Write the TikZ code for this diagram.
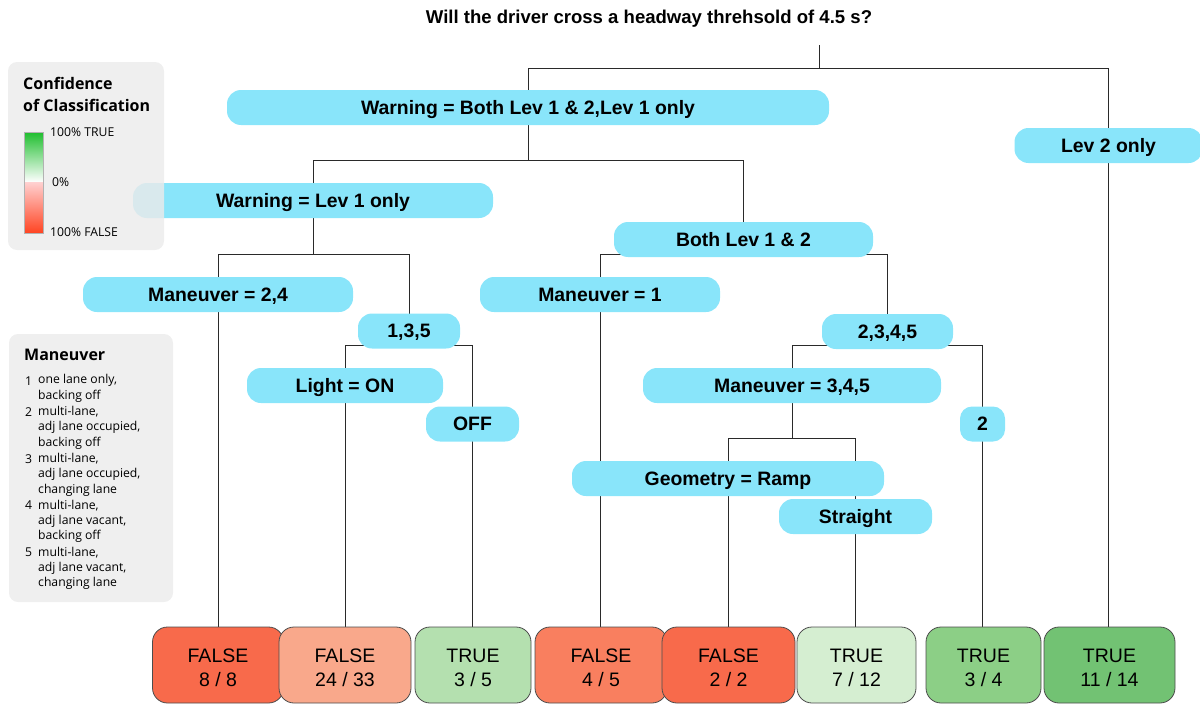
\documentclass[tikz,border=0pt]{standalone}
\usepackage{fontspec}
\setmainfont{Liberation Sans}
\newfontfamily\legfont{Open Sans}
\usetikzlibrary{backgrounds}
\definecolor{splitfill}{HTML}{89E5FA}
\definecolor{edgecol}{HTML}{2A2A2A}
\definecolor{legfill}{HTML}{EBEBEB}
\definecolor{fA}{HTML}{F86A4B}
\definecolor{fB}{HTML}{F9A88B}
\definecolor{fC}{HTML}{F97F5F}
\definecolor{tA}{HTML}{B4E0AF}
\definecolor{tB}{HTML}{D5EED1}
\definecolor{tC}{HTML}{8CCF86}
\definecolor{tD}{HTML}{72C273}
\definecolor{gtop}{HTML}{1EBE2E}
\definecolor{rbot}{HTML}{FF4422}
\begin{document}
\begin{tikzpicture}[x=1pt,y=-1pt,
  split/.style={fill=splitfill, draw=none, rounded corners=14pt, minimum height=35pt, inner sep=0pt,
    text height=13.9pt, text depth=0pt,
    font=\fontsize{19.4}{22}\selectfont\bfseries},
  leaf/.style={draw=black!70, line width=0.8pt, rounded corners=15pt, minimum height=76pt, inner sep=0pt,
    align=center, text height=46pt, text depth=4pt, font=\fontsize{19.5}{24}\selectfont},
  edge/.style={draw=edgecol, line width=0.9pt},
  legbox/.style={fill=legfill, fill opacity=0.82, draw=none, rounded corners=9pt},
  legtitle/.style={anchor=west, inner sep=0pt, font=\legfont\fontsize{16}{18}\selectfont\bfseries},
  legtext/.style={anchor=west, inner sep=0pt, font=\legfont\fontsize{12.2}{14}\selectfont}
]
\useasboundingbox (0,0) rectangle (1200,704);
\clip (0,0) rectangle (1200,704);

% title
\node[font=\fontsize{18.55}{22}\selectfont\bfseries, inner sep=0pt, text height=13.3pt, text depth=0pt] (title) at (649,17) {Will the driver cross a headway threhsold of 4.5 s?};
\coordinate (root) at (819,45);

% split nodes
\node[split, minimum width=602] (n1) at (528,107.5) {Warning = Both Lev 1 \& 2,Lev 1 only};
\node[split, minimum width=188] (n2) at (1108.5,145.5) {Lev 2 only};
\node[split, minimum width=360] (n3) at (313,200.5) {Warning = Lev 1 only};
\node[split, minimum width=259] (n4) at (743.5,239.5) {Both Lev 1 \& 2};
\node[split, minimum width=270] (n5) at (218,294.5) {Maneuver = 2,4};
\node[split, minimum width=102] (n6) at (409,331) {1,3,5};
\node[split, minimum width=240] (n7) at (600,294.5) {Maneuver = 1};
\node[split, minimum width=131] (n8) at (887.5,331.5) {2,3,4,5};
\node[split, minimum width=196] (n9) at (345,385.5) {Light = ON};
\node[split, minimum width=93] (n10) at (472.5,424) {OFF};
\node[split, minimum width=298] (n11) at (792,385.5) {Maneuver = 3,4,5};
\node[split, minimum width=45, rounded corners=12pt] (n12) at (982.5,424) {2};
\node[split, minimum width=312] (n13) at (728,478.5) {Geometry = Ramp};
\node[split, minimum width=153] (n14) at (855.5,516.5) {Straight};

% leaves
\node[leaf, fill=fA, minimum width=131] (L1) at (218,665) {FALSE\\8 / 8};
\node[leaf, fill=fB, minimum width=132] (L2) at (345,665) {FALSE\\24 / 33};
\node[leaf, fill=tA, minimum width=116] (L3) at (473,665) {TRUE\\3 / 5};
\node[leaf, fill=fC, minimum width=132] (L4) at (601,665) {FALSE\\4 / 5};
\node[leaf, fill=fA, minimum width=133] (L5) at (728.5,665) {FALSE\\2 / 2};
\node[leaf, fill=tB, minimum width=119] (L6) at (856.5,665) {TRUE\\7 / 12};
\node[leaf, fill=tC, minimum width=115] (L7) at (983.5,665) {TRUE\\3 / 4};
\node[leaf, fill=tD, minimum width=131] (L8) at (1109.5,665) {TRUE\\11 / 14};

% connectors
\begin{pgfonlayer}{background}
\draw[edge] (root) -- (root |- 0,68) -| (n1.center);
\draw[edge] (root |- 0,68) -| (n2.center);
\draw[edge] (n1.center) -- (n1.center |- 0,160) -| (n3.center);
\draw[edge] (n1.center |- 0,160) -| (n4.center);
\draw[edge] (n3.center) -- (n3.center |- 0,254) -| (n5.center);
\draw[edge] (n3.center |- 0,254) -| (n6.center);
\draw[edge] (n4.center) -- (n4.center |- 0,254) -| (n7.center);
\draw[edge] (n4.center |- 0,254) -| (n8.center);
\draw[edge] (n6.center) -- (n6.center |- 0,345) -| (n9.center);
\draw[edge] (n6.center |- 0,345) -| (n10.center);
\draw[edge] (n8.center) -- (n8.center |- 0,345) -| (n11.center);
\draw[edge] (n8.center |- 0,345) -| (n12.center);
\draw[edge] (n11.center) -- (n11.center |- 0,438) -| (n13.center);
\draw[edge] (n11.center |- 0,438) -| (n14.center);
\draw[edge] (n5.center) -- (n5.center |- L1.north);
\draw[edge] (n9.center) -- (n9.center |- L2.north);
\draw[edge] (n10.center) -- (n10.center |- L3.north);
\draw[edge] (n7.center) -- (n7.center |- L4.north);
\draw[edge] (n13.center) -- (n13.center |- L5.north);
\draw[edge] (n14.center) -- (n14.center |- L6.north);
\draw[edge] (n12.center) -- (n12.center |- L7.north);
\draw[edge] (n2.center) -- (n2.center |- L8.north);
\end{pgfonlayer}

% legend: confidence
\path[legbox] (8,62) rectangle (164,250);
\node[legtitle] (lt1) at (23,83) {Confidence};
\node[legtitle] (lt2) at (23,105) {of Classification};
\shade[top color=gtop, bottom color=white] (24,132) rectangle (43,182);
\shade[top color=red!18, bottom color=rbot] (24,182) rectangle (43,233);
\draw[black!30, line width=0.6pt] (24,132) rectangle (43,233);
\node[legtext] (lg1) at (50,132) {100\% TRUE};
\node[legtext] (lg2) at (52,182) {0\%};
\node[legtext] (lg3) at (50,232) {100\% FALSE};

% legend: maneuver
\path[legbox] (9,334) rectangle (173,602);
\node[legtitle] (mt) at (24,355) {Maneuver};
\foreach \yy/\nn/\txt in {
  380.7/1/{one lane only,}, 396.3//{backing off},
  411.9/2/{multi-lane,}, 427.5//{adj lane occupied,}, 443.1//{backing off},
  458.7/3/{multi-lane,}, 474.3//{adj lane occupied,}, 489.9//{changing lane},
  505.5/4/{multi-lane,}, 521.1//{adj lane vacant,}, 536.7//{backing off},
  552.3/5/{multi-lane,}, 567.9//{adj lane vacant,}, 583.5//{changing lane}}{
  \node[legtext] at (25,\yy) {\nn};
  \node[legtext] at (38,\yy) {\txt};
}
\end{tikzpicture}
\end{document}
